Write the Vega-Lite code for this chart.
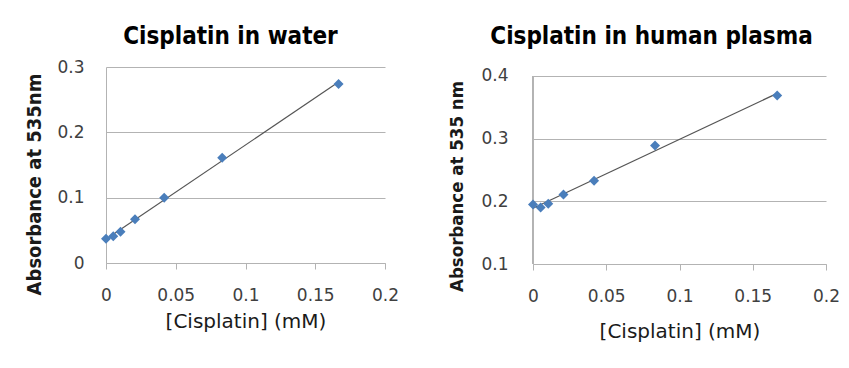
{
  "$schema": "https://vega.github.io/schema/vega-lite/v6.json",
  "padding": {"left": 24, "top": 24, "right": 5, "bottom": 5},
  "background": "white",
  "spacing": 48,
  "config": {
    "view": {"stroke": null},
    "font": "DejaVu Sans",
    "axis": {
      "labelFont": "DejaVu Sans", "labelFontSize": 17, "labelColor": "#404040",
      "titleFont": "DejaVu Sans", "titleColor": "#1a1a1a",
      "domainColor": "#b3b3b3", "gridColor": "#b3b3b3", "tickColor": "#b3b3b3"
    },
    "axisX": {"grid": false, "tickSize": 6, "labelPadding": 18, "labelFlush": false, "titleFontWeight": "normal", "titleFontSize": 20, "titlePadding": 8},
    "axisY": {"ticks": false, "tickSize": 0, "labelPadding": 22, "titleFontWeight": "bold", "titleFont": "DejaVu Sans Condensed", "titleFontSize": 20, "titlePadding": 12},
    "title": {"font": "DejaVu Sans Condensed", "fontSize": 24, "fontWeight": "bold", "color": "#000000", "anchor": "middle"}
  },
  "datasets": {
    "water": [
      {"conc": 0, "absorbance": 0.037},
      {"conc": 0.0052, "absorbance": 0.041},
      {"conc": 0.0104, "absorbance": 0.048},
      {"conc": 0.0208, "absorbance": 0.067},
      {"conc": 0.0417, "absorbance": 0.100},
      {"conc": 0.0833, "absorbance": 0.161},
      {"conc": 0.1667, "absorbance": 0.274}
    ],
    "plasma": [
      {"conc": 0, "absorbance": 0.195},
      {"conc": 0.0052, "absorbance": 0.190},
      {"conc": 0.0104, "absorbance": 0.196},
      {"conc": 0.0208, "absorbance": 0.211},
      {"conc": 0.0417, "absorbance": 0.233},
      {"conc": 0.0833, "absorbance": 0.289},
      {"conc": 0.1667, "absorbance": 0.369}
    ]
  },
  "hconcat": [
    {
      "title": {"text": "Cisplatin in water", "offset": 9, "dx": -15},
      "width": 279, "height": 196,
      "data": {"name": "water"},
      "encoding": {
        "x": {"field": "conc", "type": "quantitative", "scale": {"domain": [0, 0.2], "nice": false},
              "axis": {"values": [0, 0.05, 0.1, 0.15, 0.2], "format": ".2~f", "title": "[Cisplatin] (mM)"}},
        "y": {"field": "absorbance", "type": "quantitative", "scale": {"domain": [0, 0.3], "nice": false},
              "axis": {"values": [0, 0.1, 0.2, 0.3], "format": ".1~f", "title": "Absorbance at 535nm", "titleY": 117}}
      },
      "layer": [
        {"transform": [{"regression": "absorbance", "on": "conc"}],
         "mark": {"type": "line", "color": "#555555", "strokeWidth": 1.2}},
        {"mark": {"type": "point", "shape": "diamond", "filled": true, "size": 100, "color": "#4A7EBB", "opacity": 1}}
      ]
    },
    {
      "title": {"text": "Cisplatin in human plasma", "offset": 18, "dx": -28},
      "width": 293, "height": 197,
      "data": {"name": "plasma"},
      "encoding": {
        "x": {"field": "conc", "type": "quantitative", "scale": {"domain": [0, 0.2], "nice": false},
              "axis": {"values": [0, 0.05, 0.1, 0.15, 0.2], "format": ".2~f", "title": "[Cisplatin] (mM)", "titlePadding": 17}},
        "y": {"field": "absorbance", "type": "quantitative", "scale": {"domain": [0.1, 0.41436], "nice": false, "zero": false},
              "axis": {"values": [0.1, 0.2, 0.3, 0.4], "format": ".1~f", "title": "Absorbance at 535 nm", "titleFontSize": 18.5, "titleY": 119, "titlePadding": 14, "labelPadding": 25, "domain": false}}
      },
      "layer": [
        {"mark": {"type": "rule", "color": "#b3b3b3", "strokeWidth": 1},
         "encoding": {"x": {"datum": 0}, "y": {"datum": 0.1}, "y2": {"datum": 0.4}}},
        {"transform": [{"regression": "absorbance", "on": "conc"}],
         "mark": {"type": "line", "color": "#555555", "strokeWidth": 1.2}},
        {"mark": {"type": "point", "shape": "diamond", "filled": true, "size": 100, "color": "#4A7EBB", "opacity": 1}}
      ]
    }
  ]
}
